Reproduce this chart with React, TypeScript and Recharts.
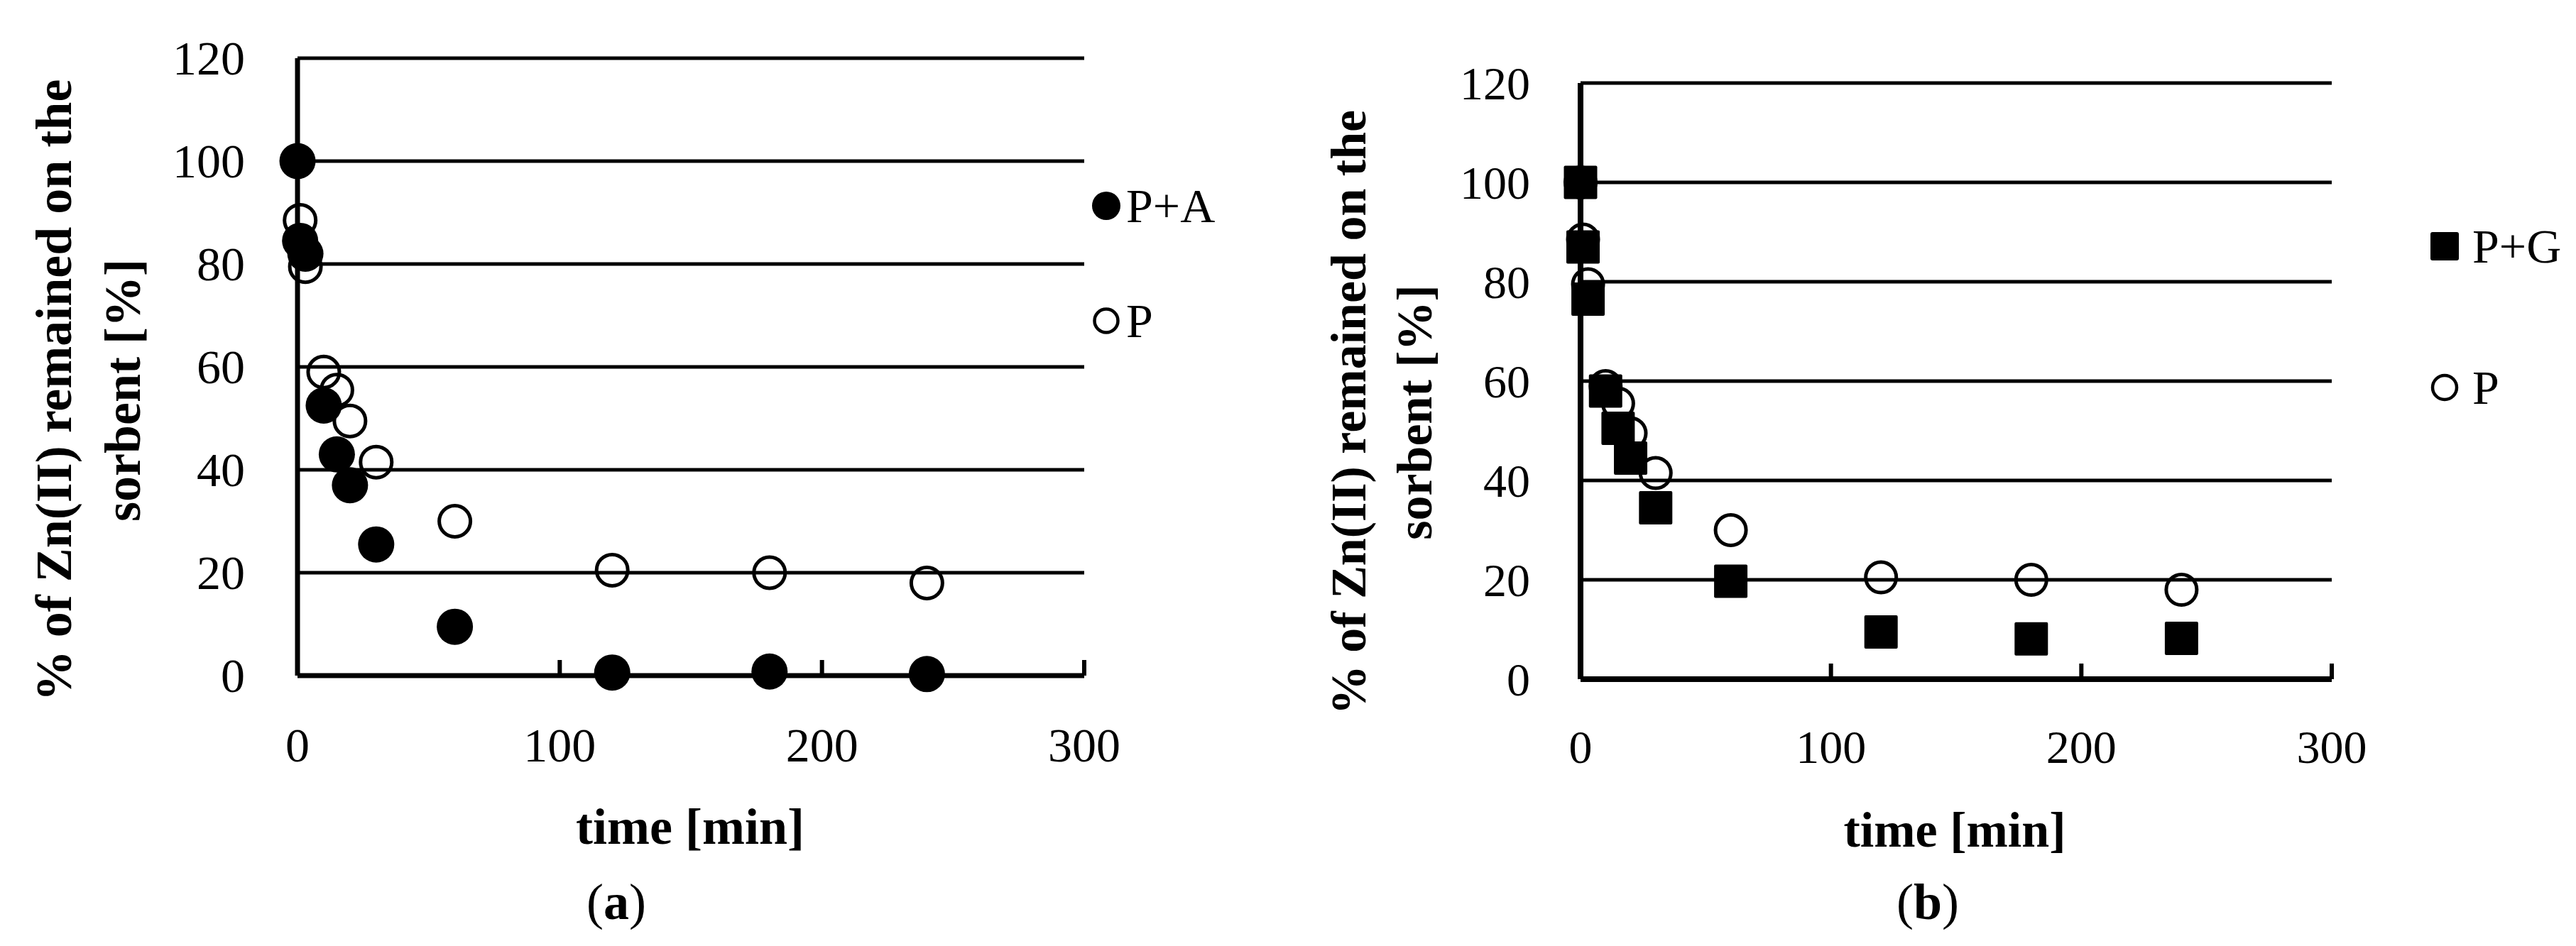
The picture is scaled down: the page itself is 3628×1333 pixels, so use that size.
import { ScatterChart, Scatter, XAxis, YAxis, CartesianGrid, Legend } from 'recharts';

const times = [0, 1, 3, 10, 15, 20, 30, 60, 120, 180, 240];
const pValues = [100, 88.5, 79.5, 59, 55.5, 49.5, 41.5, 30, 20.5, 20, 18];
const paValues = [100, 84.5, 82, 52.5, 43, 37, 25.5, 9.5, 0.6, 0.8, 0.3];
const pgValues = [100, 87, 76.5, 58, 50.5, 44.5, 34.5, 19.7, 9.5, 8.1, 8.2];

const xTicks = [0, 100, 200, 300];
const yTicks = [0, 20, 40, 60, 80, 100, 120];

const yTitle1 = '% of Zn(II) remained on the';
const yTitle2 = 'sorbent [%]';
const xTitle = 'time [min]';

const FONT = "'Liberation Serif', 'Times New Roman', serif";
const CHART_H = 1333;
const Y_AXIS_W = 80;
const X_AXIS_H = 120;

function toPoints(values: number[]) {
  return times.map((t, i) => ({ time: t, value: values[i] }));
}

const filledCircle = (r: number) => (props: any) =>
  <circle cx={props.cx} cy={props.cy} r={r} fill="#000" />;

const openCircle = (r: number, sw: number) => (props: any) =>
  <circle cx={props.cx} cy={props.cy} r={r} fill="none" stroke="#000" strokeWidth={sw} />;

const square = (s: number) => (props: any) =>
  <rect x={props.cx - s / 2} y={props.cy - s / 2} width={s} height={s} rx={2} fill="#000" />;

interface LegendItem {
  name: string;
  marker: (cx: number, cy: number) => JSX.Element;
}

interface PanelCfg {
  left: number;
  width: number;
  plotLeft: number;
  plotRight: number;
  plotTop: number;
  plotBottom: number;
  axisW: number;
  gridW: number;
  tickFont: number;
  yTickGap: number;
  xTickGap: number;
  titleFont: number;
  yTitleX: [number, number];
  yTitleY: number;
  xTitleX: number;
  xTitleY: number;
  caption: string;
  captionX: number;
  captionY: number;
  legendLeft: number;
  legendTop: number;
  legendRows: number[];
  legendMarkerX: number;
  legendTextX: number;
  legendItems: LegendItem[];
  series: { name: string; values: number[]; shape: (p: any) => JSX.Element }[];
}

function Panel({ cfg }: { cfg: PanelCfg }) {
  const XTick = (p: any) => (
    <g>
      {p.payload.value !== 0 && (
        <line x1={p.x} x2={p.x} y1={p.y} y2={p.y - 22} stroke="#000" strokeWidth={6} />
      )}
      <text x={p.x} y={p.y + cfg.xTickGap} textAnchor="middle" dominantBaseline="central"
        fontFamily={FONT} fontSize={cfg.tickFont} fill="#000">
        {p.payload.value}
      </text>
    </g>
  );

  const YTick = (p: any) => (
    <text x={p.x - cfg.yTickGap} y={p.y} textAnchor="end" dominantBaseline="central"
      fontFamily={FONT} fontSize={cfg.tickFont} fill="#000">
      {p.payload.value}
    </text>
  );

  const renderLegend = () => (
    <svg width={320} height={360} style={{ overflow: 'visible' }}>
      {cfg.legendItems.map((it, i) => (
        <g key={it.name}>
          {it.marker(cfg.legendMarkerX, cfg.legendRows[i])}
          <text x={cfg.legendTextX} y={cfg.legendRows[i]} dominantBaseline="central"
            fontFamily={FONT} fontSize={68} fill="#000">
            {it.name}
          </text>
        </g>
      ))}
    </svg>
  );

  return (
    <div style={{ position: 'absolute', left: cfg.left, top: 0, width: cfg.width, height: CHART_H }}>
      <ScatterChart
        width={cfg.width}
        height={CHART_H}
        margin={{
          top: cfg.plotTop,
          left: cfg.plotLeft - Y_AXIS_W,
          right: cfg.width - cfg.plotRight,
          bottom: CHART_H - cfg.plotBottom - X_AXIS_H,
        }}
      >
        <CartesianGrid vertical={false} stroke="#000" strokeWidth={cfg.gridW} />
        <XAxis
          type="number"
          dataKey="time"
          domain={[0, 300]}
          ticks={xTicks}
          interval={0}
          height={X_AXIS_H}
          axisLine={{ stroke: '#000', strokeWidth: cfg.axisW }}
          tickLine={false}
          tickSize={0}
          tickMargin={0}
          tick={XTick}
        />
        <YAxis
          type="number"
          dataKey="value"
          domain={[0, 120]}
          ticks={yTicks}
          interval={0}
          width={Y_AXIS_W}
          axisLine={{ stroke: '#000', strokeWidth: cfg.axisW }}
          tickLine={false}
          tickSize={0}
          tickMargin={0}
          tick={YTick}
        />
        <Legend
          layout="vertical"
          align="center"
          verticalAlign="middle"
          content={renderLegend}
          wrapperStyle={{ left: cfg.legendLeft, top: cfg.legendTop, width: 320, height: 360 }}
        />
        {cfg.series.map((s) => (
          <Scatter
            key={s.name}
            name={s.name}
            data={toPoints(s.values)}
            shape={s.shape}
            isAnimationActive={false}
          />
        ))}
      </ScatterChart>
      <svg
        width={cfg.width}
        height={CHART_H}
        style={{ position: 'absolute', left: 0, top: 0, pointerEvents: 'none' }}
      >
        <text
          transform={`translate(${cfg.yTitleX[0]}, ${cfg.yTitleY}) rotate(-90)`}
          textAnchor="middle"
          fontFamily={FONT}
          fontWeight="bold"
          fontSize={cfg.titleFont}
          fill="#000"
        >
          <tspan x={0} y={0} dominantBaseline="central">{yTitle1}</tspan>
          <tspan x={0} y={cfg.yTitleX[1] - cfg.yTitleX[0]} dominantBaseline="central">{yTitle2}</tspan>
        </text>
        <text x={cfg.xTitleX} y={cfg.xTitleY} textAnchor="middle" dominantBaseline="central"
          fontFamily={FONT} fontWeight="bold" fontSize={cfg.titleFont} fill="#000">
          {xTitle}
        </text>
        <text x={cfg.captionX} y={cfg.captionY} textAnchor="middle" dominantBaseline="central"
          fontFamily={FONT} fontSize={72} fill="#000">
          (<tspan fontWeight="bold">{cfg.caption}</tspan>)
        </text>
      </svg>
    </div>
  );
}

const panelA: PanelCfg = {
  left: 0,
  width: 1800,
  plotLeft: 419,
  plotRight: 1527,
  plotTop: 82,
  plotBottom: 952,
  axisW: 7,
  gridW: 5,
  tickFont: 68,
  yTickGap: 74,
  xTickGap: 98,
  titleFont: 72,
  yTitleX: [76, 173],
  yTitleY: 550,
  xTitleX: 972,
  xTitleY: 1165,
  caption: 'a',
  captionX: 868,
  captionY: 1271,
  legendLeft: 1500,
  legendTop: 200,
  legendRows: [90, 252],
  legendMarkerX: 58,
  legendTextX: 86,
  legendItems: [
    { name: 'P+A', marker: (x, y) => <circle cx={x} cy={y} r={20} fill="#000" /> },
    { name: 'P', marker: (x, y) => <circle cx={x} cy={y} r={16.5} fill="none" stroke="#000" strokeWidth={4.5} /> },
  ],
  series: [
    { name: 'P', values: pValues, shape: openCircle(22, 5) },
    { name: 'P+A', values: paValues, shape: filledCircle(25.5) },
  ],
};

const panelB: PanelCfg = {
  left: 1800,
  width: 1828,
  plotLeft: 426,
  plotRight: 1484,
  plotTop: 117,
  plotBottom: 957,
  axisW: 8,
  gridW: 5,
  tickFont: 66,
  yTickGap: 71,
  xTickGap: 95,
  titleFont: 70,
  yTitleX: [99, 192],
  yTitleY: 581,
  xTitleX: 953,
  xTitleY: 1169,
  caption: 'b',
  captionX: 915,
  captionY: 1271,
  legendLeft: 1600,
  legendTop: 250,
  legendRows: [97, 296],
  legendMarkerX: 43,
  legendTextX: 82,
  legendItems: [
    { name: 'P+G', marker: (x, y) => <rect x={x - 20} y={y - 20} width={40} height={40} rx={3} fill="#000" /> },
    { name: 'P', marker: (x, y) => <circle cx={x} cy={y} r={17} fill="none" stroke="#000" strokeWidth={4.5} /> },
  ],
  series: [
    { name: 'P', values: pValues, shape: openCircle(21.5, 5) },
    { name: 'P+G', values: pgValues, shape: square(47) },
  ],
};

export default function App() {
  return (
    <div style={{ position: 'absolute', left: 0, top: 0, width: 3628, height: 1333, background: '#fff' }}>
      <Panel cfg={panelA} />
      <Panel cfg={panelB} />
    </div>
  );
}
